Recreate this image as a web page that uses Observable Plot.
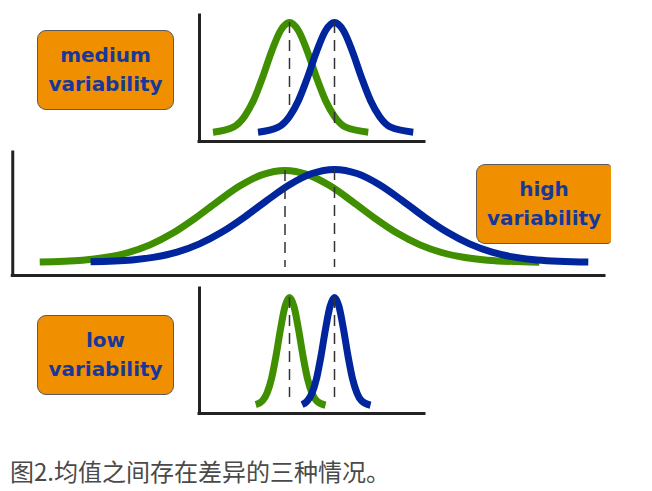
<!DOCTYPE html>
<html>
<head>
<meta charset="utf-8">
<script src="https://cdn.jsdelivr.net/npm/d3@7"></script>
<script src="https://cdn.jsdelivr.net/npm/@observablehq/plot@0.6"></script>
<style>
  html, body { margin: 0; padding: 0; background: #fff; }
  #wrap { position: relative; width: 652px; height: 491px; overflow: hidden; background: #fff; }
  #wrap svg { display: block; }
  .label {
    position: absolute; box-sizing: border-box; width: 137px; height: 80px;
    background: #F09000; border: 1.5px solid #5a5a5a; border-radius: 9px;
    display: flex; flex-direction: column; align-items: center; justify-content: center;
    font-family: "DejaVu Sans", sans-serif; font-weight: bold; font-size: 20px; line-height: 29px;
    color: #17389a;
  }
  .label.cut { border-right: none; border-top-right-radius: 4px; border-bottom-right-radius: 4px; width: 135px; }
  #caption {
    position: absolute; left: 10px; top: 456px; line-height: 30px;
    font-family: "Noto Sans CJK SC", sans-serif; font-size: 24px; color: #4a4a4a; white-space: nowrap;
  }
</style>
</head>
<body>
<div id="wrap">
  <div id="p1"></div>
  <div id="p2"></div>
  <div id="p3"></div>
</div>
<script>
// ---------- data (x in score units, y in % of axis height) ----------
const labels = ["medium variability", "high variability", "low variability"];
const caption = "图2.均值之间存在差异的三种情况。";
const seriesColors = ["#3f8f00", "#00259c"]; // green, blue

// medium variability
const medGreenX = [33, 37.5, 40, 42, 44, 46, 48, 50, 52, 54, 56, 58, 60, 62.5, 67.5];
const medGreenY = [7.4, 11.4, 19.9, 32.6, 50.8, 71.3, 87.9, 94.4, 87.9, 71.3, 50.8, 32.6, 19.9, 11.4, 7.4];
const medBlueX  = [43, 47.5, 50, 52, 54, 56, 58, 60, 62, 64, 66, 68, 70, 72.5, 77.5];
const medBlueY  = [7.4, 11.4, 19.9, 32.6, 50.8, 71.3, 87.9, 94.4, 87.9, 71.3, 50.8, 32.6, 19.9, 11.4, 7.4];
const medMeans = [50, 60];
const medDashTop = [94.4, 94.4];
const medDashBottom = [28.6, 12.7];

// high variability
const highGreenX = [-5.5, 4, 9, 14, 19, 24, 29, 34, 39, 44, 49, 54, 59, 64, 69, 74, 79, 84, 89, 94, 105.5];
const highGreenY = [11.0, 12.4, 14.6, 18.5, 24.9, 34.3, 46.5, 60.1, 72.9, 82.0, 85.4, 82.0, 72.9, 60.1, 46.5, 34.3, 24.9, 18.5, 14.6, 12.4, 10.8];
const highBlueX  = [5.8, 15, 20, 25, 30, 35, 40, 45, 50, 55, 60, 65, 70, 75, 80, 85, 90, 95, 100, 105, 116.4];
const highBlueY  = [11.1, 12.6, 14.9, 19.0, 25.7, 35.3, 47.5, 61.1, 73.8, 82.9, 86.2, 82.9, 73.8, 61.1, 47.5, 35.3, 25.7, 19.0, 14.9, 12.6, 10.9];
const highMeans = [49, 60];
const highDashTop = [85.4, 86.2];
const highDashBottom = [6.5, 6.5];

// low variability
const lowGreenX = [42.5, 44, 45, 46, 47, 48, 49, 50, 51, 52, 53, 54, 55, 56, 58];
const lowGreenY = [7.1, 10.2, 16.3, 27.9, 46.0, 67.5, 85.6, 92.8, 85.6, 67.5, 46.0, 27.9, 16.3, 10.2, 6.6];
const lowBlueX  = [52.8, 54, 55, 56, 57, 58, 59, 60, 61, 62, 63, 64, 65, 66, 68];
const lowBlueY  = [7.1, 10.2, 16.3, 27.9, 46.0, 67.5, 85.6, 92.8, 85.6, 67.5, 46.0, 27.9, 16.3, 10.2, 6.6];
const lowMeans = [50, 60];
const lowDashTop = [92.8, 92.8];
const lowDashBottom = [12.8, 12.8];

// ---------- drawing ----------
const zip = (xs, ys) => xs.map((x, i) => ({x, y: ys[i]}));
const dashes = (m, t, b) => m.map((x, i) => ({x, top: t[i], bottom: b[i]}));

function panel({domain, height, marginLeft, marginRight, marginTop, marginBottom, green, blue, dash}) {
  return Plot.plot({
    width: 652, height, marginLeft, marginRight, marginTop, marginBottom,
    x: {domain, axis: null},
    y: {domain: [0, 100], axis: null},
    style: {background: "transparent", overflow: "visible"},
    marks: [
      Plot.line(green, {x: "x", y: "y", stroke: seriesColors[0], strokeWidth: 7, curve: "monotone-x", strokeLinecap: "butt"}),
      Plot.line(blue, {x: "x", y: "y", stroke: seriesColors[1], strokeWidth: 7, curve: "monotone-x", strokeLinecap: "butt"}),
      Plot.ruleX(dash, {x: "x", y1: "top", y2: "bottom", stroke: "#333", strokeWidth: 1.5, strokeDasharray: "11,7"}),
      Plot.ruleX([domain[0]], {stroke: "#222", strokeWidth: 3, strokeLinecap: "square"}),
      Plot.ruleY([0], {stroke: "#222", strokeWidth: 3, strokeLinecap: "square"})
    ]
  });
}

document.getElementById("p1").append(panel({
  domain: [30, 80], height: 148, marginLeft: 199, marginRight: 228, marginTop: 15, marginBottom: 7,
  green: zip(medGreenX, medGreenY), blue: zip(medBlueX, medBlueY),
  dash: dashes(medMeans, medDashTop, medDashBottom)
}));
document.getElementById("p2").append(panel({
  domain: [-11.5, 120], height: 135, marginLeft: 12.25, marginRight: 48, marginTop: 4, marginBottom: 8,
  green: zip(highGreenX, highGreenY), blue: zip(highBlueX, highBlueY),
  dash: dashes(highMeans, highDashTop, highDashBottom)
}));
document.getElementById("p3").append(panel({
  domain: [30, 80], height: 137, marginLeft: 199, marginRight: 228, marginTop: 5, marginBottom: 7,
  green: zip(lowGreenX, lowGreenY), blue: zip(lowBlueX, lowBlueY),
  dash: dashes(lowMeans, lowDashTop, lowDashBottom)
}));

const wrap = document.getElementById("wrap");
const boxPos = [[37, 30], [476, 164], [37, 315]];
labels.forEach((t, i) => {
  const d = document.createElement("div");
  d.className = i === 1 ? "label cut" : "label";
  d.style.left = boxPos[i][0] + "px";
  d.style.top = boxPos[i][1] + "px";
  t.split(" ").forEach(w => { const s = document.createElement("div"); s.textContent = w; d.append(s); });
  wrap.append(d);
});
const c = document.createElement("div");
c.id = "caption";
c.textContent = caption;
wrap.append(c);
</script>
</body>
</html>
